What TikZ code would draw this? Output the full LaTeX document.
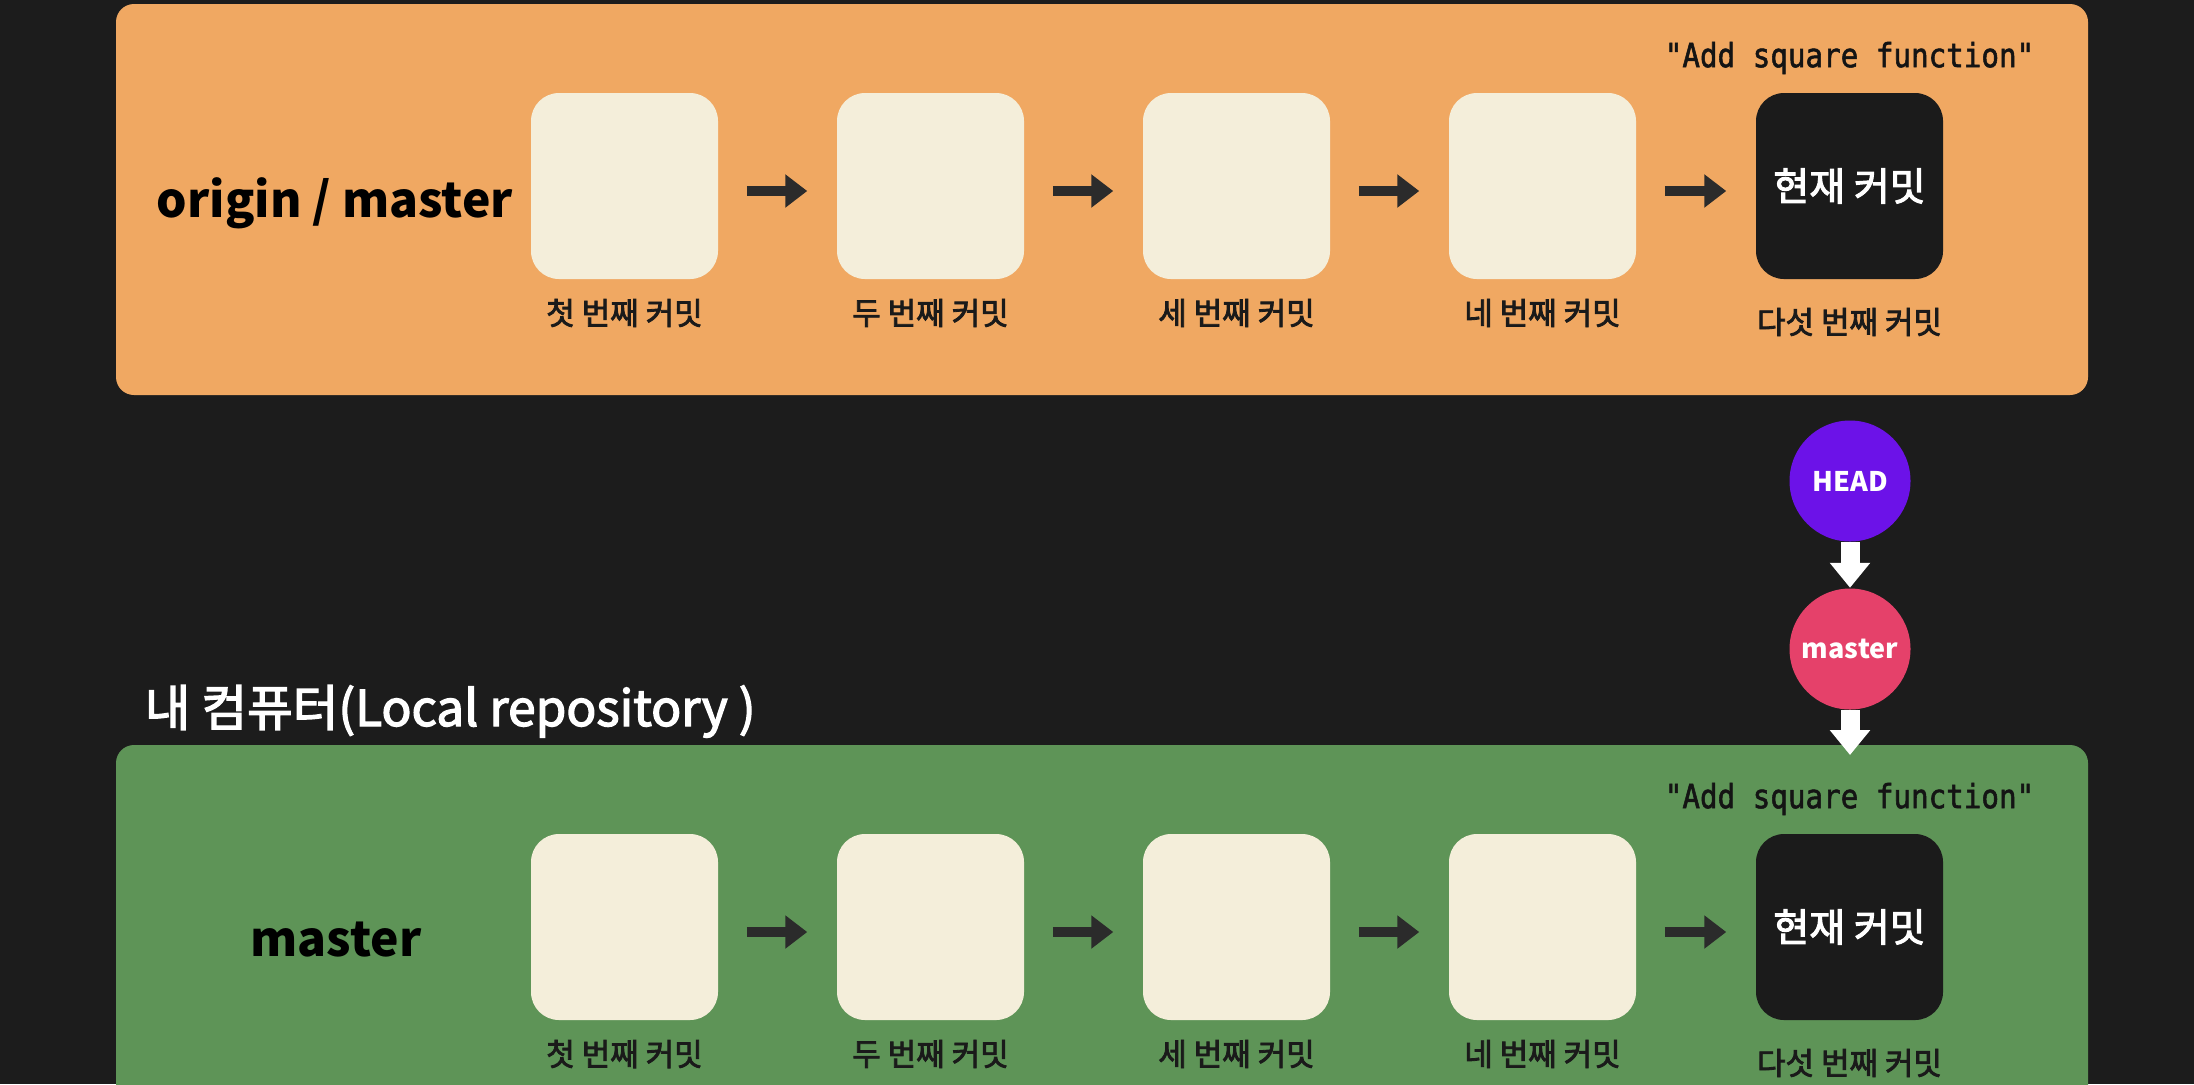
\documentclass[tikz,border=0pt]{standalone}
\usepackage{fontspec}
\setmainfont{Noto Sans CJK KR}
\newfontfamily\krmedium[FakeBold=2.6]{Noto Sans CJK KR}
\newfontfamily\codefont[FakeStretch=0.88,FakeBold=1.6]{DejaVu Sans Mono}
\usetikzlibrary{arrows.meta,positioning}

\tikzset{every picture/.style={line width=0.75pt}}
\tikzset{
  commit/.style={rectangle,rounded corners=14pt,minimum width=93.5pt,minimum height=93pt,inner sep=0pt,
    fill={rgb, 255:red, 244; green, 238; blue, 218 }},
  headcommit/.style={commit,fill={rgb, 255:red, 27; green, 27; blue, 27 },text=white,font=\krmedium\fontsize{19.5}{22}\selectfont},
  clabel/.style={inner sep=0pt,font=\krmedium\fontsize{15.5}{18}\selectfont,text={rgb, 255:red, 26; green, 26; blue, 26 }},
  msg/.style={inner sep=0pt,font=\codefont\fontsize{16.6}{19}\selectfont,text={rgb, 255:red, 20; green, 20; blue, 20 }},
  branch/.style={inner sep=0pt,font=\bfseries\fontsize{24}{28}\selectfont,text=black},
  darrow/.style={line width=5pt,draw={rgb, 255:red, 43; green, 43; blue, 43 },-{Triangle[width=16pt,length=11pt]}},
  warrow/.style={line width=9.5pt,draw=white,-{Triangle[width=19.5pt,length=12.5pt]}},
  pointer/.style={circle,minimum size=60.5pt,inner sep=0pt,text=white,font=\bfseries\fontsize{13.5}{16}\selectfont}
}

\begin{document}
\begin{tikzpicture}[x=0.5pt,y=0.5pt,yscale=-1,xscale=1]
\useasboundingbox (0,0) rectangle (2194,1084);
%Shape: Background
\fill [color={rgb, 255:red, 28; green, 28; blue, 28 }] (0,0) rectangle (2194,1084);
%Shape: Rectangle [origin]
\fill [color={rgb, 255:red, 240; green, 168; blue, 98 },rounded corners=9pt] (116,4) rectangle (2088,395);
%Shape: Rectangle [local]
\fill [color={rgb, 255:red, 94; green, 148; blue, 87 },rounded corners=9pt] (116,745) rectangle (2088,1120);

% Text Node
\draw (144,726) node [anchor=base west][inner sep=0pt][text=white,font=\krmedium\fontsize{24.8}{28}\selectfont] (localtitle) {내 컴퓨터(Local repository )};
% Text Node
\draw (335,217) node [anchor=base][branch] (origintitle) {origin / master};
% Text Node
\draw (336,956) node [anchor=base][branch] (mastertitle) {master};

%Shape: Commits [origin/master]
\node [commit] (o1) at (624.5,186) {};
\node [commit] (o2) at (930.5,186) {};
\node [commit] (o3) at (1236.5,186) {};
\node [commit] (o4) at (1542.5,186) {};
\node [headcommit] (o5) at (1849.5,186) {현재 커밋};
%Shape: Commits [master]
\node [commit] (l1) at (624.5,927) {};
\node [commit] (l2) at (930.5,927) {};
\node [commit] (l3) at (1236.5,927) {};
\node [commit] (l4) at (1542.5,927) {};
\node [headcommit] (l5) at (1849.5,927) {현재 커밋};

%Straight Lines [history arrows]
\draw [darrow] ([shift={(28,5)}]o1.east) -- ([shift={(-29,5)}]o2.west);
\draw [darrow] ([shift={(28,5)}]o2.east) -- ([shift={(-29,5)}]o3.west);
\draw [darrow] ([shift={(28,5)}]o3.east) -- ([shift={(-29,5)}]o4.west);
\draw [darrow] ([shift={(28,5)}]o4.east) -- ([shift={(-29,5)}]o5.west);
\draw [darrow] ([shift={(28,5)}]l1.east) -- ([shift={(-29,5)}]l2.west);
\draw [darrow] ([shift={(28,5)}]l2.east) -- ([shift={(-29,5)}]l3.west);
\draw [darrow] ([shift={(28,5)}]l3.east) -- ([shift={(-29,5)}]l4.west);
\draw [darrow] ([shift={(28,5)}]l4.east) -- ([shift={(-29,5)}]l5.west);

% Text Node
\draw (624.5,313) node [clabel] (o1lab) {첫 번째 커밋};
\draw (930.5,313) node [clabel] (o2lab) {두 번째 커밋};
\draw (1236.5,313) node [clabel] (o3lab) {세 번째 커밋};
\draw (1542.5,313) node [clabel] (o4lab) {네 번째 커밋};
\draw (1849.5,322) node [clabel] (o5lab) {다섯 번째 커밋};
\draw (1849.5,58) node [msg] (o5msg) {"Add square function"};
% Text Node
\draw (624.5,1054) node [clabel] (l1lab) {첫 번째 커밋};
\draw (930.5,1054) node [clabel] (l2lab) {두 번째 커밋};
\draw (1236.5,1054) node [clabel] (l3lab) {세 번째 커밋};
\draw (1542.5,1054) node [clabel] (l4lab) {네 번째 커밋};
\draw (1849.5,1063) node [clabel] (l5lab) {다섯 번째 커밋};
\draw (1849.5,799) node [msg] (l5msg) {"Add square function"};

%Shape: Circle [pointers]
\node [pointer,fill={rgb, 255:red, 108; green, 18; blue, 232 }] (head) at (1850,481) {HEAD};
\node [pointer,fill={rgb, 255:red, 229; green, 65; blue, 106 }] (master) at (1850,649) {master};
\coordinate (localtop) at (1850,755);
%Straight Lines [pointer arrows]
\draw [warrow] (head.south) -- (master.north);
\draw [warrow] (master.south) -- (localtop);

\end{tikzpicture}
\end{document}
